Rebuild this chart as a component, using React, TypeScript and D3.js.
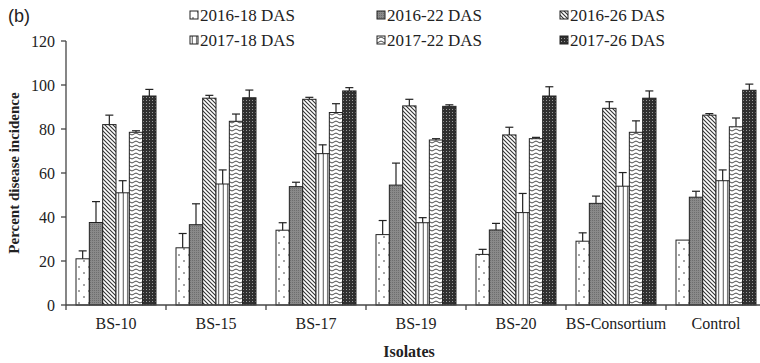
import React from "react";
import * as d3 from "d3";

const categories = ["BS-10", "BS-15", "BS-17", "BS-19", "BS-20", "BS-Consortium", "Control"];
const seriesNames = ["2016-18 DAS", "2016-22 DAS", "2016-26 DAS", "2017-18 DAS", "2017-22 DAS", "2017-26 DAS"];
const values = [
  [21, 26, 34, 32, 23, 29, 29.5],
  [37.5, 36.5, 53.8, 54.5, 34.1, 46.2, 49],
  [82, 94, 93.5, 90.5, 77.3, 89.4, 86.3],
  [51, 55, 68.8, 37.4, 42, 54, 56.5],
  [78.5, 83.5, 87.5, 75, 75.6, 78.5, 81],
  [95, 94.2, 97.3, 90.3, 95, 94, 97.6],
];
const errors = [
  [3.6, 6.5, 3.4, 6.4, 2.3, 3.8, 0],
  [9.5, 9.5, 2, 10, 3, 3.3, 2.7],
  [4.3, 1.3, 0.9, 3, 3.5, 3, 0.7],
  [5.5, 6.4, 4, 2.3, 8.7, 6.2, 4.9],
  [0.7, 3.3, 4, 0.6, 0.6, 5.2, 4],
  [3, 3.5, 1.5, 0.7, 4.2, 3.3, 2.8],
];
const yTicks = [0, 20, 40, 60, 80, 100, 120];

const W = 760, H = 363;
const left = 66, right = 766, top = 41, bottom = 305;
const serif = "'Liberation Serif', 'Times New Roman', serif";

export default function App() {
  const x0 = d3.scaleBand<string>().domain(categories).range([left, right]).paddingInner(0.2).paddingOuter(0.1);
  const x1 = d3.scaleBand<number>().domain(d3.range(seriesNames.length)).range([0, x0.bandwidth()]);
  const y = d3.scaleLinear().domain([0, 120]).range([bottom, top]);
  const boundaries = d3.range(categories.length + 1).map((i) => left + (i * (right - left)) / categories.length);
  const fills = ["url(#p0)", "url(#p1)", "url(#p2)", "url(#p3)", "url(#p4)", "url(#p5)"];
  const legendX = [190, 377, 560];
  const legendY = [15, 40];

  return (
    <svg width={W} height={H} style={{ display: "block", position: "absolute", left: 0, top: 0, background: "#fff" }}>
      <defs>
        <pattern id="p0" width="10" height="12" patternUnits="userSpaceOnUse">
          <rect width="10" height="12" fill="#fff" />
          <circle cx="3" cy="3" r="0.8" fill="#333" />
          <circle cx="8" cy="9" r="0.8" fill="#333" />
        </pattern>
        <pattern id="p1" width="2" height="2" patternUnits="userSpaceOnUse">
          <rect width="2" height="2" fill="#8a8a8a" />
          <rect width="1" height="1" fill="#6e6e6e" />
        </pattern>
        <pattern id="p2" width="4" height="4" patternUnits="userSpaceOnUse">
          <rect width="4" height="4" fill="#fff" />
          <path d="M-1,-1 L5,5 M-1,3 L1,5 M3,-1 L5,1" stroke="#333" strokeWidth="1.1" />
        </pattern>
        <pattern id="p3" width="4.5" height="4" patternUnits="userSpaceOnUse">
          <rect width="4.5" height="4" fill="#fff" />
          <line x1="2.2" y1="0" x2="2.2" y2="4" stroke="#333" strokeWidth="0.9" />
        </pattern>
        <pattern id="p4" width="8" height="4" patternUnits="userSpaceOnUse">
          <rect width="8" height="4" fill="#fff" />
          <path d="M0,3 L4,1 L8,3" fill="none" stroke="#333" strokeWidth="0.9" />
        </pattern>
        <pattern id="p5" width="3" height="3" patternUnits="userSpaceOnUse">
          <rect width="3" height="3" fill="#2f2f2f" />
          <rect x="1" y="1" width="1" height="1" fill="#9a9a9a" />
        </pattern>
      </defs>

      <text x={8} y={22} fontFamily="'Liberation Sans', Arial, sans-serif" fontSize={18} fill="#222">(b)</text>

      {seriesNames.map((name, i) => {
        const col = i % 3;
        const row = Math.floor(i / 3);
        return (
          <g key={name} transform={`translate(${legendX[col]},${legendY[row]})`}>
            <rect x={0} y={-4} width={8} height={8} fill={fills[i]} stroke="#222" strokeWidth={1} />
            <text x={10} y={5.5} fontFamily={serif} fontSize={17} fill="#222">{name}</text>
          </g>
        );
      })}

      {/* bars */}
      {categories.map((c, ci) => (
        <g key={c} transform={`translate(${x0(c)},0)`}>
          {seriesNames.map((s, si) => {
            const v = values[si][ci];
            const e = errors[si][ci];
            const bx = x1(si)!;
            const bw = x1.bandwidth();
            const cx = bx + bw / 2;
            return (
              <g key={s}>
                <rect x={bx} y={y(v)} width={bw} height={y(0) - y(v)} fill={fills[si]} stroke="#222" strokeWidth={1} />
                {e > 0.2 && (
                  <g stroke="#222" strokeWidth={1.2}>
                    <line x1={cx} x2={cx} y1={y(v)} y2={y(v + e)} />
                    <line x1={cx - 4} x2={cx + 4} y1={y(v + e)} y2={y(v + e)} />
                  </g>
                )}
              </g>
            );
          })}
        </g>
      ))}

      {/* axes */}
      <line x1={left} x2={left} y1={top} y2={bottom} stroke="#444" strokeWidth={1.3} />
      <line x1={left} x2={right} y1={bottom} y2={bottom} stroke="#444" strokeWidth={1.3} />
      {yTicks.map((t) => (
        <g key={t}>
          <line x1={left - 5} x2={left} y1={y(t)} y2={y(t)} stroke="#444" strokeWidth={1.3} />
          <text x={left - 11} y={y(t) + 5.5} textAnchor="end" fontFamily={serif} fontSize={16} fill="#222">{t}</text>
        </g>
      ))}
      {boundaries.map((b, i) => (
        <line key={i} x1={b} x2={b} y1={bottom} y2={bottom + 5} stroke="#444" strokeWidth={1.3} />
      ))}
      {categories.map((c) => (
        <text key={c} x={x0(c)! + x0.bandwidth() / 2} y={329} textAnchor="middle" fontFamily={serif} fontSize={16} fill="#222">{c}</text>
      ))}
      <text x={409} y={357} textAnchor="middle" fontFamily={serif} fontSize={16} fontWeight="bold" fill="#222">Isolates</text>
      <text transform={`translate(19,${(top + bottom) / 2}) rotate(-90)`} textAnchor="middle" fontFamily={serif} fontSize={15} fontWeight="bold" fill="#222">Percent disease incidence</text>
    </svg>
  );
}
